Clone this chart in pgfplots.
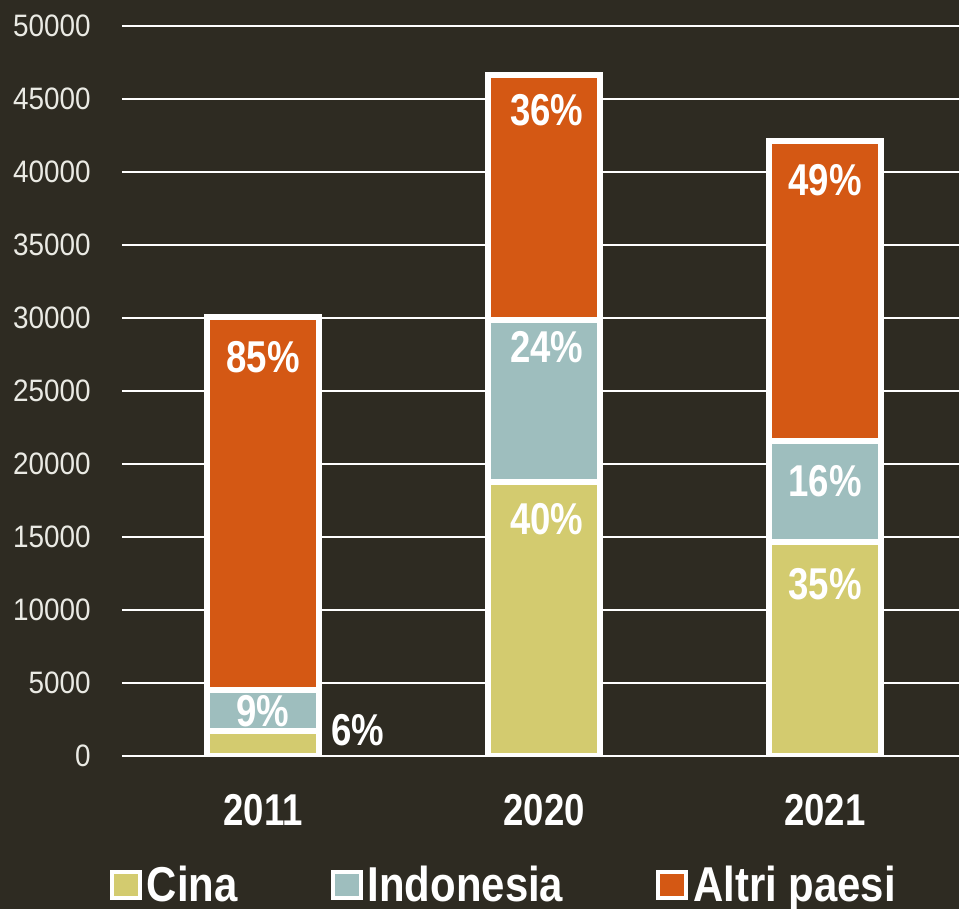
\documentclass[border=0pt]{standalone}
\usepackage{fontspec}
\setmainfont{Liberation Sans}
\newfontfamily\narrow[FakeStretch=0.82]{Liberation Sans}
\newfontfamily\legfont[FakeStretch=0.855]{Liberation Sans}
\newfontfamily\ylabfont[FakeStretch=0.9]{Liberation Sans}
\usepackage{pgfplots}
\pgfplotsset{compat=1.18}
\usetikzlibrary{backgrounds}
\definecolor{bg}{HTML}{2E2B22}
\definecolor{cina}{HTML}{D3CB6F}
\definecolor{indo}{HTML}{9EBEBE}
\definecolor{altri}{HTML}{D45814}
\definecolor{ticktext}{HTML}{EAEAE4}
\newcommand{\lab}{\narrow\bfseries\fontsize{22.3}{24}\selectfont}
\begin{document}
\begin{tikzpicture}
\begin{axis}[
    name=ax,
    scale only axis,
    width=418.5pt, height=365pt,
    ybar stacked, bar width=56pt,
    xmin=-0.502, xmax=2.477,
    ymin=0, ymax=50000,
    xtick={0,1,2}, xticklabels={2011,2020,2021},
    ytick={0,5000,...,50000},
    scaled y ticks=false,
    axis line style={draw=none},
    major tick length=0pt,
    ymajorgrids, grid style={white, line width=1pt},
    /pgf/number format/assume math mode=true,
    /pgf/number format/1000 sep={},
    yticklabel style={font=\ylabfont\fontsize{15.5}{17}\selectfont, text=ticktext, inner sep=0pt, anchor=east, xshift=-15.5pt},
    xticklabel style={font=\lab, text=white, inner sep=0pt, anchor=base, yshift=-35pt},
    legend columns=3,
    legend style={at={(axis description cs:0.458,0)}, anchor=center, yshift=-64.5pt,
        draw=none, fill=none, text=white, font=\legfont\bfseries\fontsize{24.5}{26}\selectfont,
        nodes={inner xsep=2.5pt},
        /tikz/every even column/.append style={column sep=44pt}},
    legsq/.style={legend image code/.code={\draw[##1, draw=white, line width=2pt] (0pt,-6.5pt) rectangle (14pt,6.5pt);}},
]
% Cina
\addplot[fill=cina, draw=white, line width=2.8pt, legsq] coordinates {(0,1712) (1,18767) (2,14658)};
% Indonesia
\addplot[fill=indo, draw=white, line width=2.8pt, legsq] coordinates {(0,2808) (1,11096) (2,6917)};
% Altri paesi
\addplot[fill=altri, draw=white, line width=2.8pt, legsq] coordinates {(0,25548) (1,16781) (2,20548)};
\legend{Cina, Indonesia, Altri paesi}
% posizioni delle etichette percentuali
\coordinate (a1) at (axis cs:0,27329);
\coordinate (a2) at (axis cs:0,3082);
\coordinate (a3) at (axis cs:0.338,1781);
\coordinate (b1) at (axis cs:1.01,44247);
\coordinate (b2) at (axis cs:1.01,28014);
\coordinate (b3) at (axis cs:1.01,16233);
\coordinate (c1) at (axis cs:2,39452);
\coordinate (c2) at (axis cs:2,18836);
\coordinate (c3) at (axis cs:2,11781);
\end{axis}
\foreach \p/\t in {a1/85, a2/9, a3/6, b1/36, b2/24, b3/40, c1/49, c2/16, c3/35}
  \node[font=\lab, text=white] at (\p) {\t\%};
\pgfresetboundingbox
\begin{scope}[on background layer]
\fill[bg] ([shift={(-61pt,-76.5pt)}]ax.south west) rectangle ([shift={(0pt,13pt)}]ax.north east);
\end{scope}
\useasboundingbox ([shift={(-61pt,-76.5pt)}]ax.south west) rectangle ([shift={(0pt,13pt)}]ax.north east);
\end{tikzpicture}
\end{document}
